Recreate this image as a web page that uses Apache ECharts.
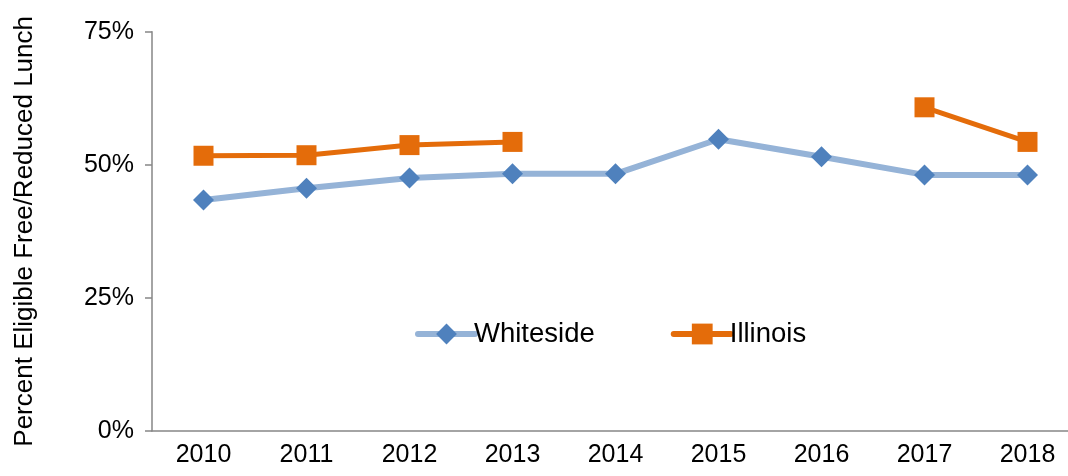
<!DOCTYPE html>
<html><head><meta charset="utf-8">
<script src="https://cdn.jsdelivr.net/npm/echarts@6/dist/echarts.min.js"></script>
<style>html,body{margin:0;padding:0;background:#fff}#c{width:1068px;height:476px}</style>
</head><body><div id="c"></div>
<script>
const years = ['2010','2011','2012','2013','2014','2015','2016','2017','2018'];
const whiteside = [43.4, 45.6, 47.5, 48.3, 48.3, 54.8, 51.5, 48.1, 48.1];
const illinois = [51.7, 51.8, 53.7, 54.3, null, null, null, 60.8, 54.3];
const yTicks = [0, 25, 50, 75];
const font = 'Liberation Sans, Arial, sans-serif';
const chart = echarts.init(document.getElementById('c'));
chart.setOption({
  animation: false,
  grid: {left: 152, width: 927, top: 31.7, bottom: 45, containLabel: false, outerBoundsMode: 'none'},
  legend: {
    left: 410, top: 315, itemWidth: 57, itemHeight: 26, itemGap: 76,
    lineStyle: {width: 6, cap: 'round'},
    textStyle: {fontFamily: font, fontSize: 27.5, color: '#000', padding: [0,0,0,-6]},
    data: ['Whiteside', 'Illinois']
  },
  xAxis: {
    type: 'category', data: years, boundaryGap: true,
    axisLine: {lineStyle: {color: '#868686', width: 1.5}},
    axisTick: {alignWithLabel: false, length: 7, lineStyle: {color: '#868686', width: 1.5}},
    axisLabel: {fontFamily: font, fontSize: 25, color: '#000', margin: 12}
  },
  yAxis: {
    type: 'value', min: yTicks[0], max: yTicks[yTicks.length-1], interval: 25,
    name: 'Percent Eligible Free/Reduced Lunch', nameLocation: 'middle', nameGap: 114,
    nameTextStyle: {fontFamily: font, fontSize: 26, color: '#000'},
    axisLine: {show: true, lineStyle: {color: '#868686', width: 1.5}},
    axisTick: {show: true, length: 7, lineStyle: {color: '#868686', width: 1.5}},
    splitLine: {show: false},
    axisLabel: {fontFamily: font, fontSize: 25, color: '#000', margin: 18, formatter: v => v + '%'}
  },
  series: [
    {
      name: 'Whiteside', type: 'line', data: whiteside,
      symbol: 'diamond', symbolSize: 21,
      itemStyle: {color: '#4F81BD'},
      lineStyle: {color: '#95B3D7', width: 6},
      z: 2
    },
    {
      name: 'Illinois', type: 'line', data: illinois, connectNulls: false,
      symbol: 'rect', symbolSize: 20,
      itemStyle: {color: '#E46C0A'},
      lineStyle: {color: '#E46C0A', width: 5},
      z: 3
    }
  ]
});
</script></body></html>
